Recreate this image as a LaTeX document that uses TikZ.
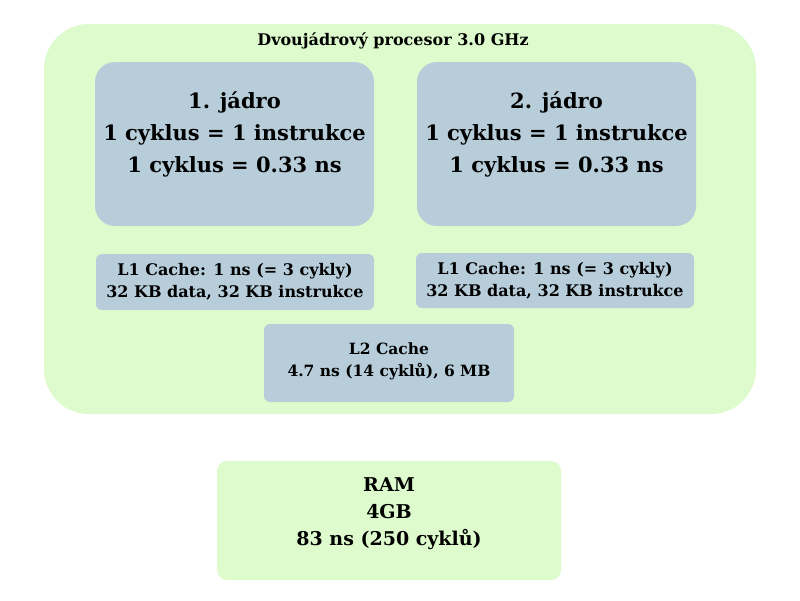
\documentclass[tikz,border=0pt]{standalone}
\usepackage{fontspec}
\setmainfont{DejaVu Serif}
\begin{document}
\begin{tikzpicture}[x=1pt,y=-1pt,
 txt/.style={align=center,font=\bfseries,inner sep=0pt}]
\definecolor{lgreen}{HTML}{DDFBCC}
\definecolor{blueish}{HTML}{B7CDD9}
\tikzset{green/.style={fill=lgreen,draw=none},blue/.style={fill=blueish,draw=none}}
\useasboundingbox (0,0) rectangle (800,600);
\fill[white] (0,0) rectangle (800,600);
\path[green,rounded corners=45] (44,24) rectangle (756,414);
\node[txt,font=\bfseries\fontsize{16}{17}\selectfont] (title) at (393,41) {Dvoujádrový procesor 3.0 GHz};
\path[blue,rounded corners=20] (95,62) rectangle (374,226);
\path[blue,rounded corners=20] (417,62) rectangle (696,226);
\node[txt,font=\bfseries\fontsize{21}{32}\selectfont] (c1) at (234.5,134) {1. jádro\\1 cyklus = 1 instrukce\\1 cyklus = 0.33 ns};
\node[txt,font=\bfseries\fontsize{21}{32}\selectfont] (c2) at (556.5,134) {2. jádro\\1 cyklus = 1 instrukce\\1 cyklus = 0.33 ns};
\path[blue,rounded corners=6] (96,254) rectangle (374,310);
\path[blue,rounded corners=6] (416,253) rectangle (694,308);
\node[txt,font=\bfseries\fontsize{16}{22}\selectfont] (l1a) at (235,282) {L1 Cache: 1 ns (= 3 cykly)\\32 KB data, 32 KB instrukce};
\node[txt,font=\bfseries\fontsize{16}{22}\selectfont] (l1b) at (555,281) {L1 Cache: 1 ns (= 3 cykly)\\32 KB data, 32 KB instrukce};
\path[blue,rounded corners=6] (264,324) rectangle (514,402);
\node[txt,font=\bfseries\fontsize{15.5}{22}\selectfont] (l2) at (389,361) {L2 Cache\\4.7 ns (14 cyklů), 6 MB};
\path[green,rounded corners=10] (217,461) rectangle (561,580);
\node[txt,font=\bfseries\fontsize{19}{27}\selectfont] (ram) at (389,514) {RAM\\4GB\\83 ns (250 cyklů)};
\end{tikzpicture}
\end{document}
